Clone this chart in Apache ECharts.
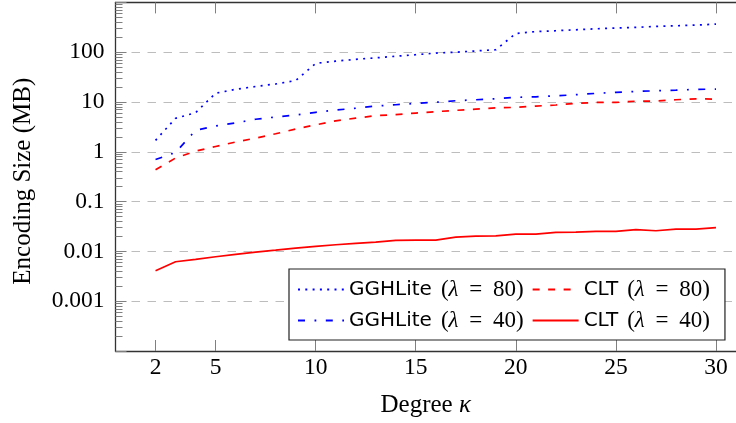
<!DOCTYPE html>
<html>
<head>
<meta charset="utf-8">
<script src="https://cdn.jsdelivr.net/npm/echarts@6/dist/echarts.min.js"></script>
<style>
html,body{margin:0;padding:0;background:#fff;}
#c{width:736px;height:423px;}
</style>
</head>
<body>
<div id="c"></div>
<script>
// ---- data ----
const kappa = [2,3,4,5,6,7,8,9,10,11,12,13,14,15,16,17,18,19,20,21,22,23,24,25,26,27,28,29,30];
const gghLite80 = [1.7,4.7,6.1,15,18,20.5,23,27,59.6,66,72,77,83,89,96,100,106,112,238,259,270,282,295,305,315,330,339,350,367];
const gghLite40 = [0.70,0.97,2.7,3.3,3.8,4.5,5.0,5.5,6.2,6.9,7.5,8.3,8.8,9.4,9.9,10.6,11.1,11.6,12.4,12.7,13.3,14.0,14.9,15.6,16.3,16.8,17.3,17.9,18.2];
const clt80 = [0.435,0.75,1.03,1.28,1.57,1.88,2.3,2.86,3.48,4.19,4.75,5.3,5.6,6.0,6.4,6.8,7.2,7.65,7.8,8.3,8.7,9.4,9.8,9.8,10.4,10.4,11.1,11.6,11.4];
const clt40 = [0.0041,0.0062,0.0069,0.0078,0.0087,0.0097,0.0106,0.0116,0.0126,0.0136,0.0145,0.0154,0.0166,0.0169,0.0169,0.0194,0.0203,0.0205,0.0222,0.0222,0.0241,0.0243,0.0252,0.0252,0.0273,0.026,0.028,0.028,0.0299];
const xTicks = [2,5,10,15,20,25,30];
const yTicks = [0.0001,0.001,0.01,0.1,1,10,100,1000];
const yTickLabels = ['', '0.001','0.01','0.1','1','10','100',''];
const seriesNames = ['GGHLite (λ = 80)','CLT (λ = 80)','GGHLite (λ = 40)','CLT (λ = 40)'];

// minor log ticks (2..9 in each decade)
const yMinor = [];
for (let e = -4; e < 3; e++) {
  for (let m = 2; m <= 9; m++) yMinor.push(m * Math.pow(10, e));
}

function pairs(ys){ return kappa.map((k,i)=>[k, ys[i]]); }

const serif = 'Liberation Serif';
const axisColor = '#333';
const tickColor = '#808080';

const chart = echarts.init(document.getElementById('c'), null, {renderer:'canvas'});
const grid = {left:115.5, top:2.4, width:630, height:348.6};

const option = {
  animation:false,
  backgroundColor:'#fff',
  grid: grid,
  legend: {
    left:289, top:269,
    width: 580,
    orient:'horizontal',
    data: seriesNames,
    itemWidth:46, itemHeight:14, itemGap:8,
    padding:[9,15,8,8],
    backgroundColor:'#fff',
    borderColor:'#222', borderWidth:1.2, borderRadius:0,
    itemStyle:{opacity:0},
    z: 10,
    formatter: function(name){
      const idx = name.indexOf(' (');
      const a = name.slice(0, idx);
      const num = name.slice(name.indexOf('= ')+2, name.length-1);
      return '{s|' + a + '}{m|(}{i|λ}{e| = }{m|' + num + ')}';
    },
    textStyle:{
      color:'#000',
      rich:{
        s:{fontFamily:'DejaVu Sans', fontSize:20, color:'#000', lineHeight:22, padding:[0,9,0,0]},
        m:{fontFamily:serif, fontSize:23, color:'#000', lineHeight:22},
        e:{fontFamily:serif, fontSize:23, color:'#000', lineHeight:22, padding:[0,5,0,5]},
        i:{fontFamily:serif, fontSize:23, fontStyle:'italic', color:'#000', lineHeight:22}
      }
    }
  },
  xAxis: [{
    type:'value', min:0, max:31, position:'bottom',
    name:'Degree {i|κ}', nameLocation:'middle', nameGap:42,
    nameTextStyle:{fontFamily:serif, fontSize:25, color:'#000',
      rich:{i:{fontFamily:serif, fontSize:25, fontStyle:'italic', color:'#000'}}},
    axisLine:{show:true, onZero:false, lineStyle:{color:axisColor, width:1.3}},
    axisTick:{show:true, inside:true, length:11, customValues:xTicks, lineStyle:{color:tickColor, width:1}},
    axisLabel:{show:true, customValues:xTicks, margin:5, fontFamily:serif, fontSize:23.5, color:'#000'},
    splitLine:{show:false}
  },{
    type:'value', min:0, max:31, position:'top',
    axisLine:{show:true, onZero:false, lineStyle:{color:axisColor, width:1.3}},
    axisTick:{show:true, inside:true, length:11, customValues:xTicks, lineStyle:{color:tickColor, width:1}},
    axisLabel:{show:false},
    splitLine:{show:false}
  }],
  yAxis: [{
    type:'log', logBase:10, min:0.0001, max:1000, position:'left',
    name:'Encoding Size (MB)', nameLocation:'middle', nameGap:80, nameRotate:90,
    nameTextStyle:{fontFamily:serif, fontSize:25, color:'#000', padding:[0,9,0,0]},
    axisLine:{show:true, onZero:false, lineStyle:{color:axisColor, width:1.3}},
    axisTick:{show:true, inside:true, length:11, customValues:yTicks, lineStyle:{color:tickColor, width:1}},
    axisLabel:{show:true, customValues:yTicks, margin:11, fontFamily:serif, fontSize:23.5, color:'#000',
      formatter:function(v){
        const i = Math.round(Math.log10(v)) + 4;
        return yTickLabels[i] || '';
      }},
    splitLine:{show:true, lineStyle:{color:'#bdbdbd', width:1, type:[8.5,7.5]}}
  },{
    type:'log', logBase:10, min:0.0001, max:1000, position:'left',
    axisLine:{show:false},
    axisTick:{show:true, inside:true, length:7, customValues:yMinor, lineStyle:{color:tickColor, width:1}},
    axisLabel:{show:false},
    splitLine:{show:false}
  }],
  series: [
    {name:seriesNames[0], type:'line', data:pairs(gghLite80), symbol:'none', xAxisIndex:0, yAxisIndex:0,
      itemStyle:{color:'#0000ff'}, lineStyle:{color:'#0000ff', width:1.7, type:[2,5.3]}, z:3},
    {name:seriesNames[1], type:'line', data:pairs(clt80), symbol:'none', xAxisIndex:0, yAxisIndex:0,
      itemStyle:{color:'#ff0000'}, lineStyle:{color:'#ff0000', width:1.7, type:[7,8.5]}, z:3},
    {name:seriesNames[2], type:'line', data:pairs(gghLite40), symbol:'none', xAxisIndex:0, yAxisIndex:0,
      itemStyle:{color:'#0000ff'}, lineStyle:{color:'#0000ff', width:1.7, type:[7,9.5,1.8,9.5]}, z:3},
    {name:seriesNames[3], type:'line', data:pairs(clt40), symbol:'none', xAxisIndex:0, yAxisIndex:0,
      itemStyle:{color:'#ff0000'}, lineStyle:{color:'#ff0000', width:1.7, type:'solid'}, z:3}
  ]
};
chart.setOption(option);
</script>
</body>
</html>
